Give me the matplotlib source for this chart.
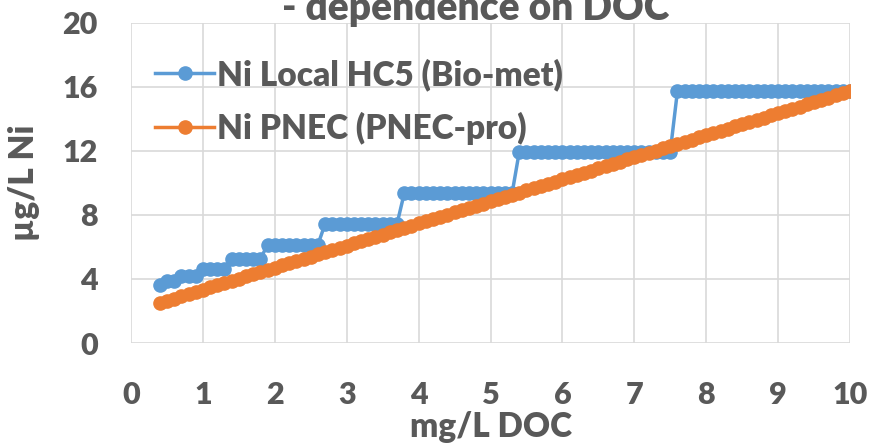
import matplotlib
matplotlib.use("Agg")
import matplotlib.pyplot as plt

plt.rcParams['font.family'] = ['Lato', 'DejaVu Sans']
plt.rcParams['font.weight'] = 'heavy'

# DOC values (mg/L)
doc = [0.4, 0.5, 0.6, 0.7, 0.8, 0.9,
       1.0, 1.1, 1.2, 1.3, 1.4, 1.5, 1.6, 1.7, 1.8, 1.9,
       2.0, 2.1, 2.2, 2.3, 2.4, 2.5, 2.6, 2.7, 2.8, 2.9,
       3.0, 3.1, 3.2, 3.3, 3.4, 3.5, 3.6, 3.7, 3.8, 3.9,
       4.0, 4.1, 4.2, 4.3, 4.4, 4.5, 4.6, 4.7, 4.8, 4.9,
       5.0, 5.1, 5.2, 5.3, 5.4, 5.5, 5.6, 5.7, 5.8, 5.9,
       6.0, 6.1, 6.2, 6.3, 6.4, 6.5, 6.6, 6.7, 6.8, 6.9,
       7.0, 7.1, 7.2, 7.3, 7.4, 7.5, 7.6, 7.7, 7.8, 7.9,
       8.0, 8.1, 8.2, 8.3, 8.4, 8.5, 8.6, 8.7, 8.8, 8.9,
       9.0, 9.1, 9.2, 9.3, 9.4, 9.5, 9.6, 9.7, 9.8, 9.9,
       10.0]

# Ni local HC5 (Bio-met), step-wise
hc5 = [3.65, 3.9, 3.9, 4.2, 4.2, 4.2,
       4.65, 4.65, 4.65, 4.65, 5.25, 5.25, 5.25, 5.25, 5.25, 6.15,
       6.15, 6.15, 6.15, 6.15, 6.15, 6.15, 6.15, 7.45, 7.45, 7.45,
       7.45, 7.45, 7.45, 7.45, 7.45, 7.45, 7.45, 7.45, 9.35, 9.35,
       9.35, 9.35, 9.35, 9.35, 9.35, 9.35, 9.35, 9.35, 9.35, 9.35,
       9.35, 9.35, 9.35, 9.35, 11.95, 11.95, 11.95, 11.95, 11.95, 11.95,
       11.95, 11.95, 11.95, 11.95, 11.95, 11.95, 11.95, 11.95, 11.95, 11.95,
       11.95, 11.95, 11.95, 11.95, 11.95, 11.95, 15.75, 15.75, 15.75, 15.75,
       15.75, 15.75, 15.75, 15.75, 15.75, 15.75, 15.75, 15.75, 15.75, 15.75,
       15.75, 15.75, 15.75, 15.75, 15.75, 15.75, 15.75, 15.75, 15.75, 15.75,
       15.75]

# Ni PNEC (PNEC-pro)
pnec = [2.50, 2.64, 2.78, 2.91, 3.05, 3.19,
        3.33, 3.47, 3.60, 3.74, 3.88, 4.02, 4.16, 4.29, 4.43, 4.57,
        4.71, 4.85, 4.98, 5.12, 5.26, 5.40, 5.54, 5.67, 5.81, 5.95,
        6.09, 6.23, 6.36, 6.50, 6.64, 6.78, 6.92, 7.05, 7.19, 7.33,
        7.47, 7.61, 7.74, 7.88, 8.02, 8.16, 8.30, 8.43, 8.57, 8.71,
        8.85, 8.99, 9.12, 9.26, 9.40, 9.54, 9.68, 9.81, 9.95, 10.09,
        10.23, 10.37, 10.50, 10.64, 10.78, 10.92, 11.06, 11.19, 11.33, 11.47,
        11.61, 11.75, 11.88, 12.02, 12.16, 12.30, 12.44, 12.57, 12.71, 12.85,
        12.99, 13.13, 13.26, 13.40, 13.54, 13.68, 13.82, 13.95, 14.09, 14.23,
        14.37, 14.51, 14.64, 14.78, 14.92, 15.06, 15.20, 15.33, 15.47, 15.61,
        15.75]

txt = '#595959'
blue = '#5B9BD5'
orange = '#ED7D31'

fig = plt.figure(figsize=(8.72, 4.44), dpi=100)
ax = fig.add_axes([131/872, 101/444, 719/872, 320/444])

ax.plot(doc, hc5, color=blue, lw=2.5, marker='o', ms=9.5, label='Ni Local HC5 (Bio-met)', zorder=3)
ax.plot(doc, pnec, color=orange, lw=2.5, marker='o', ms=9.5, label='Ni PNEC (PNEC-pro)', zorder=4)

ax.set_xlim(0, 10)
ax.set_ylim(0, 20)
ax.set_xticks(range(0, 11))
ax.set_yticks([0, 4, 8, 12, 16, 20])
ax.grid(True, color='#d9d9d9', lw=1.2)
ax.set_axisbelow(True)
for s in ax.spines.values():
    s.set_visible(False)
ax.tick_params(length=0, labelsize=22, labelcolor=txt)
ax.tick_params(axis='y', pad=24)
ax.tick_params(axis='x', pad=27)
for lab in ax.get_xticklabels() + ax.get_yticklabels():
    lab.set_fontweight('heavy')

ax.set_xlabel('mg/L DOC', fontsize=24, color=txt, fontweight='heavy', labelpad=2)
ax.set_ylabel('µg/L Ni', fontsize=24, color=txt, fontweight='heavy', labelpad=16)

leg = ax.legend(loc='upper left', bbox_to_anchor=(0.034, 0.89), frameon=False,
                handlelength=1.75, handletextpad=0.1,
                labelspacing=0.62, borderpad=0, borderaxespad=0,
                prop={'size': 24, 'weight': 'heavy'})
for t in leg.get_texts():
    t.set_color(txt)

fig.text(0.546, 1 - 20/444, '- dependence on DOC', ha='center', va='baseline',
         fontsize=28, color=txt, fontweight='heavy')

fig.savefig('out.png', dpi=100)
